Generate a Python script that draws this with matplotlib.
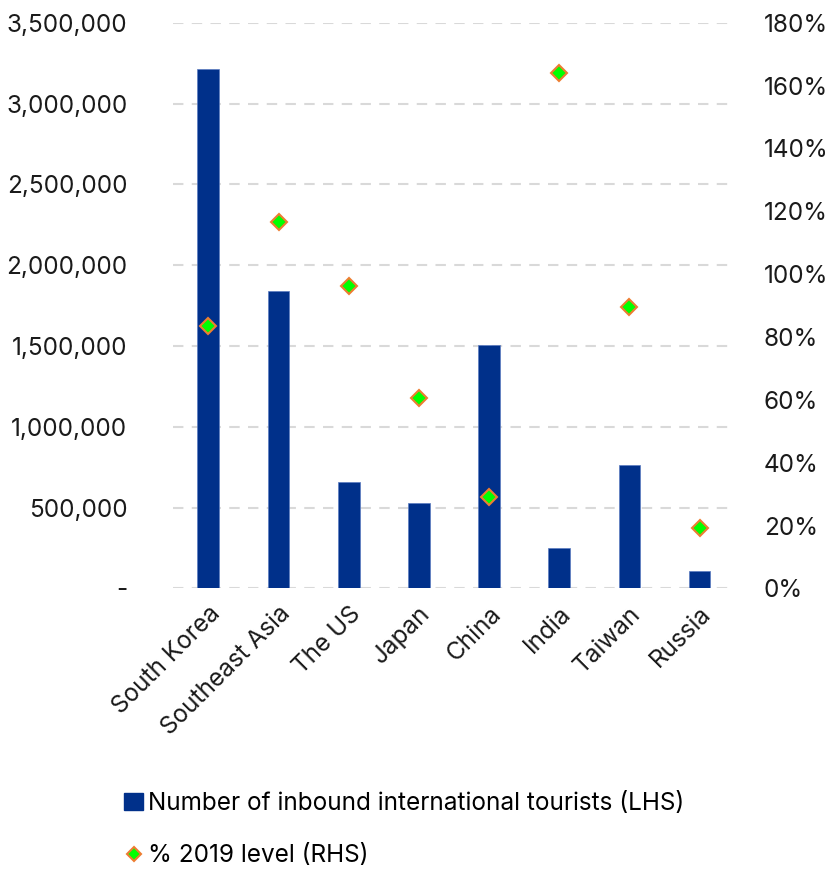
import matplotlib.pyplot as plt
from matplotlib.ticker import FuncFormatter, MultipleLocator
from matplotlib.lines import Line2D
from matplotlib.patches import Patch

plt.rcParams['font.family'] = ['Inter', 'DejaVu Sans']

countries = ["South Korea", "Southeast Asia", "The US", "Japan", "China", "India", "Taiwan", "Russia"]
tourists = [3215000, 1840000, 657000, 527000, 1505000, 248000, 762000, 105000]
pct2019 = [83.5, 116.6, 96.2, 60.5, 29.0, 164.0, 89.5, 19.1]

barColor = "#00308a"
fs = 17.5

fig = plt.figure(figsize=(8.33, 8.73), dpi=100)
ax = fig.add_axes([0.208, 0.326, 0.674, 0.648])
ax2 = ax.twinx()

x = range(len(countries))
ax.bar(x, tourists, width=0.31, color=barColor, edgecolor="#5b7bc0", linewidth=0.5, zorder=3)
ax2.plot(x, pct2019, linestyle="none", marker="D", markersize=8.5,
         markerfacecolor="#00ff00", markeredgecolor="#ed7d31", markeredgewidth=1.5, zorder=4)

ax.set_xlim(-0.5, len(countries) - 0.5)
ax.set_ylim(0, 3500000)
ax2.set_ylim(0, 180)
ax.yaxis.set_major_locator(MultipleLocator(500000))
ax2.yaxis.set_major_locator(MultipleLocator(20))
ax.yaxis.set_major_formatter(FuncFormatter(lambda v, p: "-" if v == 0 else f"{v:,.0f}"))
ax2.yaxis.set_major_formatter(FuncFormatter(lambda v, p: f"{v:.0f}%"))

ax.grid(axis="y", color="#d9d9d9", linestyle=(0, (5, 4)), linewidth=1.5, zorder=0)
ax.set_axisbelow(True)

for a in (ax, ax2):
    for s in a.spines.values():
        s.set_visible(False)
    a.tick_params(length=0, labelsize=fs, colors="#1a1a1a")

ax.tick_params(axis="y", pad=33)
ax2.tick_params(axis="y", pad=21)
ax.set_xticks(list(x))
ax.set_xticklabels(countries, rotation=45, ha="right", rotation_mode="anchor", fontsize=fs)
ax.tick_params(axis="x", pad=10)

handles = [
    Patch(facecolor=barColor, edgecolor=barColor, label="Number of inbound international tourists (LHS)"),
    Line2D([], [], linestyle="none", marker="D", markersize=7, markerfacecolor="#00ff00",
           markeredgecolor="#ed7d31", markeredgewidth=1.5, label="% 2019 level (RHS)"),
]
fig.legend(handles=handles, loc="upper left", bbox_to_anchor=(0.137, 0.104), frameon=False,
           fontsize=fs, labelspacing=1.2, handlelength=0.8, handletextpad=0.2, borderaxespad=0)

fig.savefig("out.png", dpi=100)
